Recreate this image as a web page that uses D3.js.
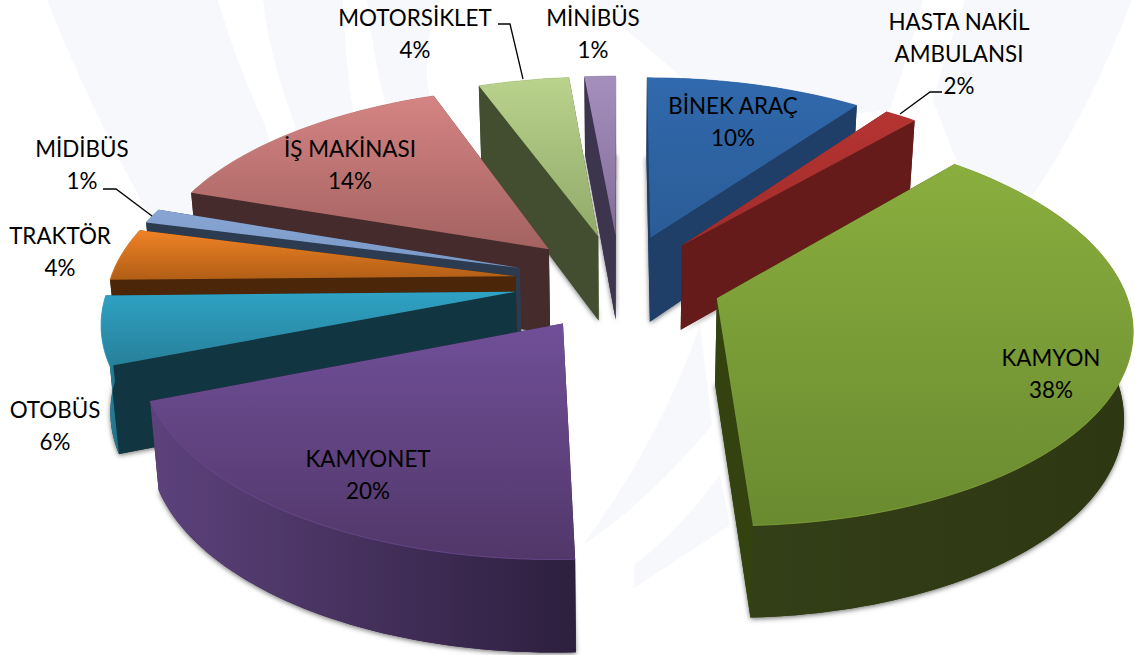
<!DOCTYPE html>
<html lang="en">
  <head>
    <meta charset="UTF-8">
    <title>Araç türleri</title>
    <style>
      html, body { margin: 0; padding: 0; background: #fff; }
      svg { display: block; }
      .label { font-family: Lato, "Open Sans", sans-serif; font-size: 22.4px; fill: #000; text-anchor: middle; }
      .leader { fill: none; stroke: #000; stroke-width: 1.3; }
    </style>
    <script src="https://d3js.org/d3.v7.min.js"></script>
  </head>
  <body>
    <script>
      // values, labels show them rounded
      const categories = ["BİNEK ARAÇ", "HASTA NAKİL\nAMBULANSI", "KAMYON", "KAMYONET", "OTOBÜS", "TRAKTÖR", "MİDİBÜS", "İŞ MAKİNASI", "MOTORSİKLET", "MİNİBÜS"];
      const shares = [10, 1.5, 37.8, 19.8, 5.6, 4.3, 1.2, 14.15, 4.2, 1.45];
      const explosions = [0.25, 0.25, 0.25, 0.25, 0.26, 0.26, 0.26, 0.25, 0.25, 0.25];

      const topLight = ["#3069ad", "#b53432", "#8aae3e", "#704f98", "#2fa2c4", "#f08326", "#88a5d4", "#d48483", "#b9d28c", "#a590bd"];
      const topDark = ["#2b5c96", "#a02c2a", "#6a8a30", "#513769", "#27809a", "#b05e16", "#7a98c6", "#a36260", "#92aa6a", "#826c9a"];
      const cutColor = ["#1f3f68", "#641b1a", "#33420f", "#2f2040", "#123641", "#4b2609", "#2c3b50", "#452b2b", "#434d2f", "#3d344e"];
      const arcLeft = ["#1a3558", "#5c1716", "#333f17", "#5d427c", "#2a8fab", "#4b2609", "#2c3b50", "#4b2e2e", "#4c5631", "#3d344e"];
      const arcRight = ["#1f3f68", "#701f1e", "#2e3713", "#2d1f3e", "#1f6f85", "#4b2609", "#2c3b50", "#452b2b", "#434d2f", "#3d344e"];

      const labelSpots = [[733, 106], [959, 22], [1051, 358], [368, 459], [55, 410], [60, 236], [82, 149], [350, 149], [415, 18], [593, 18]];
      const leaders = [
        [[942, 92], [930, 92], [900, 114]],
        [[498, 24], [510, 24], [523, 79]],
        [[103, 189], [116, 189], [152, 216]]
      ];

      // pale swooshes of the slide background
      const swooshes = [
        "M47,0 Q95,120 155,225 L300,260 L265,125 Q235,60 218,0 Z",
        "M263,0 L343,0 Q345,60 353,110 L340,220 L300,200 L295,125 Q270,60 263,0 Z",
        "M367,0 L440,0 Q420,50 430,100 L385,103 Q372,50 367,0 Z",
        "M590,0 Q640,40 690,85 L700,130 L890,110 Q910,50 923,0 Z",
        "M965,0 L1132,0 Q1090,110 1033,195 L960,170 L933,100 Q950,40 965,0 Z",
        "M700,325 Q660,440 583,545 Q650,500 712,425 Z",
        "M720,475 Q680,530 634,565 L634,588 L730,525 Z"
      ];

      const width = 1135;
      const height = 655;
      const cx = 620;
      const cy = 282;
      const scaleX = 406;
      const scaleY = 192.3;
      const persp = 0.134;
      const lineGap = 32;

      const svg = d3.select("body").append("svg")
        .attr("width", width)
        .attr("height", height);

      const defs = svg.append("defs");

      const shadow = defs.append("filter")
        .attr("id", "shadow")
        .attr("x", "-10%").attr("y", "-10%")
        .attr("width", "120%").attr("height", "120%");
      shadow.append("feDropShadow")
        .attr("dx", 0).attr("dy", 1.5)
        .attr("stdDeviation", 2.5)
        .attr("flood-color", "#000")
        .attr("flood-opacity", 0.55);

      // disc plane (u right, v towards viewer) to screen
      function project(u, v) {
        const w = 1 - persp * v;
        return [cx + scaleX * u / w, cy + scaleY * v / w];
      }

      // same point on the lower rim of the disc
      function projectLow(u, v) {
        const [x, y] = project(u, v);
        return [cx + (x - cx) * 0.982, y + 85.5 + 6.2 * v];
      }

      const line = d3.line().curve(d3.curveLinearClosed);
      const slices = d3.pie().sort(null)(shares);

      const parts = slices.map((s, i) => {
        const mid = (s.startAngle + s.endAngle) / 2;
        const tip = [explosions[i] * Math.sin(mid), -explosions[i] * Math.cos(mid)];
        const steps = Math.max(4, Math.ceil((s.endAngle - s.startAngle) * 40));
        const rim = d3.range(steps + 1).map(k => {
          const a = s.startAngle + (s.endAngle - s.startAngle) * k / steps;
          return [tip[0] + Math.sin(a), tip[1] - Math.cos(a)];
        });
        return { i, tip, rim };
      });

      function wall(pts) {
        return line(pts.map(p => project(p[0], p[1])).concat(pts.slice().reverse().map(p => projectLow(p[0], p[1]))));
      }

      function meanV(pts) {
        return d3.mean(pts, p => p[1]);
      }

      parts.forEach(p => {
        const top = defs.append("linearGradient")
          .attr("id", "top" + p.i)
          .attr("x1", 0).attr("y1", 0).attr("x2", 0).attr("y2", 1);
        top.append("stop").attr("offset", 0).attr("stop-color", topLight[p.i]);
        top.append("stop").attr("offset", 1).attr("stop-color", topDark[p.i]);

        const side = defs.append("linearGradient")
          .attr("id", "arc" + p.i)
          .attr("x1", 0).attr("y1", 0).attr("x2", 1).attr("y2", 0);
        side.append("stop").attr("offset", 0).attr("stop-color", arcLeft[p.i]);
        side.append("stop").attr("offset", 1).attr("stop-color", arcRight[p.i]);
      });

      svg.append("g")
        .attr("fill", "#f7f8fc")
        .selectAll("path")
        .data(swooshes)
        .enter()
        .append("path")
        .attr("d", d => d);

      // far slices first, each one painted over the ones behind it
      const drawOrder = d3.sort(parts, p => p.tip[1]);

      drawOrder.forEach(p => {
        const g = svg.append("g");
        const floor = [p.tip].concat(p.rim);

        g.append("path")
          .attr("d", line(floor.map(q => projectLow(q[0], q[1]))))
          .attr("fill", cutColor[p.i])
          .attr("filter", "url(#shadow)");

        const walls = [
          { pts: [p.tip, p.rim[0]], fill: cutColor[p.i] },
          { pts: [p.tip, p.rim[p.rim.length - 1]], fill: cutColor[p.i] },
          { pts: p.rim, fill: `url(#arc${p.i})` }
        ];

        d3.sort(walls, w => meanV(w.pts)).forEach(w => {
          g.append("path")
            .attr("d", wall(w.pts))
            .attr("fill", w.fill);
        });

        g.append("path")
          .attr("d", line(floor.map(q => project(q[0], q[1]))))
          .attr("fill", `url(#top${p.i})`);

        // thin bright edge where the top meets the rim
        g.append("path")
          .attr("d", d3.line()(p.rim.map(q => project(q[0], q[1]))))
          .attr("fill", "none")
          .attr("stroke", topLight[p.i])
          .attr("stroke-opacity", 0.7)
          .attr("stroke-width", 1);
      });

      leaders.forEach(pts => {
        svg.append("path")
          .attr("class", "leader")
          .attr("d", d3.line()(pts));
      });

      categories.forEach((name, i) => {
        const rows = name.split("\n").concat(Math.round(shares[i]) + "%");
        const text = svg.append("text")
          .attr("class", "label");
        rows.forEach((row, k) => {
          text.append("tspan")
            .attr("x", labelSpots[i][0])
            .attr("y", labelSpots[i][1] + 7.5 + k * lineGap)
            .text(row);
        });
      });
    </script>
  </body>
</html>
